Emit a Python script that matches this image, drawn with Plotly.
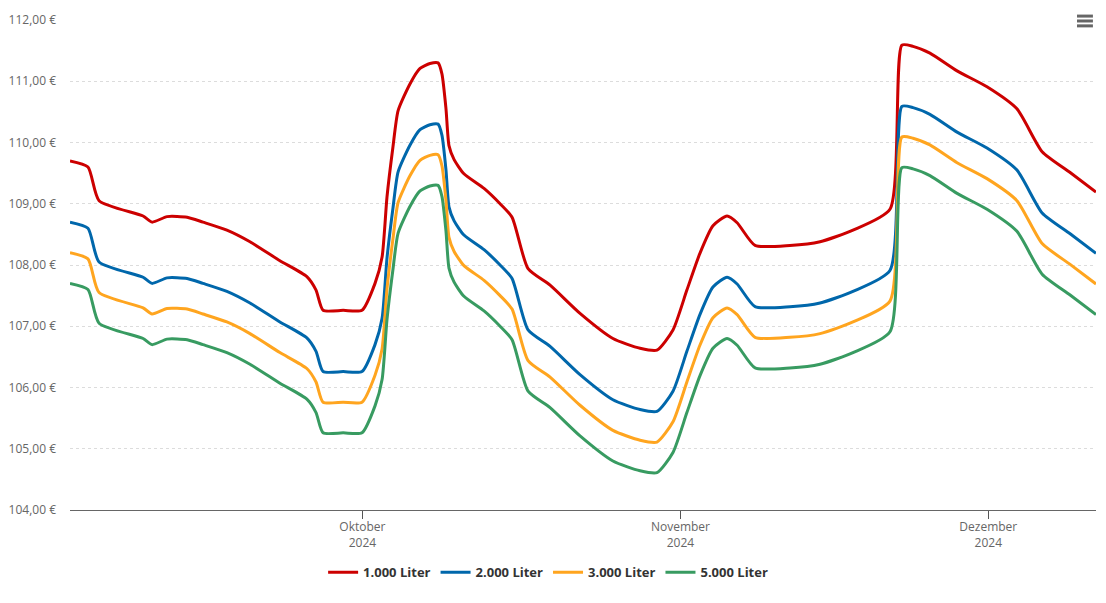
import plotly.graph_objects as go

dates = [
    "2024-09-02 12:00", "2024-09-04 06:00", "2024-09-05 08:00", "2024-09-09 15:00",
    "2024-09-10 12:00", "2024-09-11 23:00", "2024-09-13 22:00", "2024-09-15 11:00",
    "2024-09-17 19:00", "2024-09-20 01:00", "2024-09-22 23:00", "2024-09-25 14:00",
    "2024-09-26 11:30", "2024-09-27 04:00", "2024-09-29 03:00", "2024-09-30 23:00",
    "2024-10-02 05:30", "2024-10-02 22:00", "2024-10-03 09:30", "2024-10-03 23:30",
    "2024-10-04 11:30", "2024-10-05 15:30", "2024-10-06 14:45", "2024-10-07 14:00",
    "2024-10-08 09:00", "2024-10-08 18:00", "2024-10-09 03:30", "2024-10-09 10:30",
    "2024-10-09 22:30", "2024-10-10 21:30", "2024-10-12 20:30", "2024-10-14 10:00",
    "2024-10-15 14:00", "2024-10-17 03:30", "2024-10-19 07:00", "2024-10-22 05:00",
    "2024-10-25 10:00", "2024-10-28 01:30", "2024-10-29 17:00", "2024-10-31 06:30",
    "2024-11-01 15:00", "2024-11-02 21:30", "2024-11-04 04:00", "2024-11-05 13:00",
    "2024-11-06 12:30", "2024-11-08 06:30", "2024-11-11 16:00", "2024-11-14 14:30",
    "2024-11-17 19:30", "2024-11-21 10:00", "2024-11-22 14:00", "2024-11-23 16:00",
    "2024-11-25 07:30", "2024-11-27 23:00", "2024-11-30 21:00", "2024-12-03 19:00",
    "2024-12-06 06:00", "2024-12-08 23:30", "2024-12-11 12:00",
]

liter_1000 = [
    109.70, 109.60, 109.05, 108.80, 108.70, 108.79, 108.78, 108.70, 108.57, 108.38,
    108.07, 107.81, 107.59, 107.26, 107.26, 107.26, 107.70, 108.13, 109.11, 109.93,
    110.52, 110.96, 111.21, 111.29, 111.30, 111.12, 110.55, 109.95, 109.72, 109.49,
    109.25, 109.00, 108.78, 107.94, 107.67, 107.21, 106.80, 106.64, 106.61, 106.94,
    107.59, 108.19, 108.64, 108.80, 108.69, 108.32, 108.32, 108.38, 108.57, 108.91,
    111.59, 111.57, 111.46, 111.17, 110.91, 110.55, 109.85, 109.51, 109.19,
]
liter_2000 = [
    108.70, 108.60, 108.05, 107.80, 107.70, 107.79, 107.78, 107.70, 107.57, 107.38,
    107.07, 106.81, 106.59, 106.26, 106.26, 106.26, 106.70, 107.13, 108.11, 108.93,
    109.52, 109.96, 110.21, 110.29, 110.30, 110.12, 109.55, 108.95, 108.72, 108.49,
    108.25, 108.00, 107.78, 106.94, 106.67, 106.21, 105.80, 105.64, 105.61, 105.94,
    106.59, 107.19, 107.64, 107.80, 107.69, 107.32, 107.32, 107.38, 107.57, 107.91,
    110.59, 110.57, 110.46, 110.17, 109.91, 109.55, 108.85, 108.51, 108.19,
]
liter_3000 = [
    108.20, 108.10, 107.55, 107.30, 107.20, 107.29, 107.28, 107.20, 107.07, 106.88,
    106.57, 106.31, 106.09, 105.76, 105.76, 105.76, 106.20, 106.63, 107.61, 108.43,
    109.02, 109.46, 109.71, 109.79, 109.80, 109.62, 109.05, 108.45, 108.22, 107.99,
    107.75, 107.50, 107.28, 106.44, 106.17, 105.71, 105.30, 105.14, 105.11, 105.44,
    106.09, 106.69, 107.14, 107.30, 107.19, 106.82, 106.82, 106.88, 107.07, 107.41,
    110.09, 110.07, 109.96, 109.67, 109.41, 109.05, 108.35, 108.01, 107.69,
]
liter_5000 = [
    107.70, 107.60, 107.05, 106.80, 106.70, 106.79, 106.78, 106.70, 106.57, 106.38,
    106.07, 105.81, 105.59, 105.26, 105.26, 105.26, 105.70, 106.13, 107.11, 107.93,
    108.52, 108.96, 109.21, 109.29, 109.30, 109.12, 108.55, 107.95, 107.72, 107.49,
    107.25, 107.00, 106.78, 105.94, 105.67, 105.21, 104.80, 104.64, 104.61, 104.94,
    105.59, 106.19, 106.64, 106.80, 106.69, 106.32, 106.32, 106.38, 106.57, 106.91,
    109.59, 109.57, 109.46, 109.17, 108.91, 108.55, 107.85, 107.51, 107.19,
]

series_names = ["1.000 Liter", "2.000 Liter", "3.000 Liter", "5.000 Liter"]
series_values = [liter_1000, liter_2000, liter_3000, liter_5000]
series_colors = ["#CC0000", "#0067AB", "#FFA51F", "#389B61"]

x_tick_vals = ["2024-10-01", "2024-11-01", "2024-12-01"]
x_tick_text = ["Oktober<br>2024", "November<br>2024", "Dezember<br>2024"]
y_tick_vals = [104, 105, 106, 107, 108, 109, 110, 111, 112]
y_tick_text = ["104,00 €", "105,00 €", "106,00 €", "107,00 €", "108,00 €",
               "109,00 €", "110,00 €", "111,00 €", "112,00 €"]

fig = go.Figure()
for name, vals, col in zip(series_names, series_values, series_colors):
    fig.add_trace(go.Scatter(
        x=dates, y=vals, name=name, mode="lines",
        line=dict(color=col, width=3, shape="spline", smoothing=0.6),
        hoverinfo="skip",
    ))

fig.update_layout(
    width=1098, height=595,
    margin=dict(l=62, r=10, t=12, b=93, autoexpand=False),
    paper_bgcolor="white", plot_bgcolor="white",
    font=dict(family="Open Sans, Noto Sans, sans-serif", size=12, color="#666666"),
    showlegend=True,
    legend=dict(
        orientation="h", x=0.466, xanchor="center", y=-0.127, yanchor="middle",
        font=dict(size=13, color="#333333", weight="bold"),
        itemwidth=30, tracegroupgap=0, itemclick=False, itemdoubleclick=False,
    ),
    xaxis=dict(
        type="date", automargin=False,
        range=["2024-09-02 12:00", "2024-12-11 12:00"],
        tickvals=x_tick_vals, ticktext=x_tick_text,
        showgrid=False, zeroline=False,
        showline=True, linecolor="#666666", linewidth=1,
        ticks="outside", ticklen=8, tickcolor="#555555", tickwidth=1,
        ticklabelstandoff=-2,
        tickfont=dict(size=12, color="#666666"),
    ),
    yaxis=dict(
        range=[104, 112], automargin=False,
        tickvals=y_tick_vals, ticktext=y_tick_text,
        showgrid=True, gridcolor="#dcdcdc", griddash="dot", gridwidth=1,
        zeroline=False, showline=False, ticks="",
        ticklabelstandoff=13,
        tickfont=dict(size=12, color="#666666"),
    ),
)

# export-menu icon (three bars)
for yy in [1.008, 0.998, 0.988]:
    fig.add_shape(type="line", xref="paper", yref="paper",
                  x0=0.9815, x1=0.997, y0=yy, y1=yy,
                  line=dict(color="#666666", width=3))

fig.write_html("out.html", config={"displayModeBar": False})
